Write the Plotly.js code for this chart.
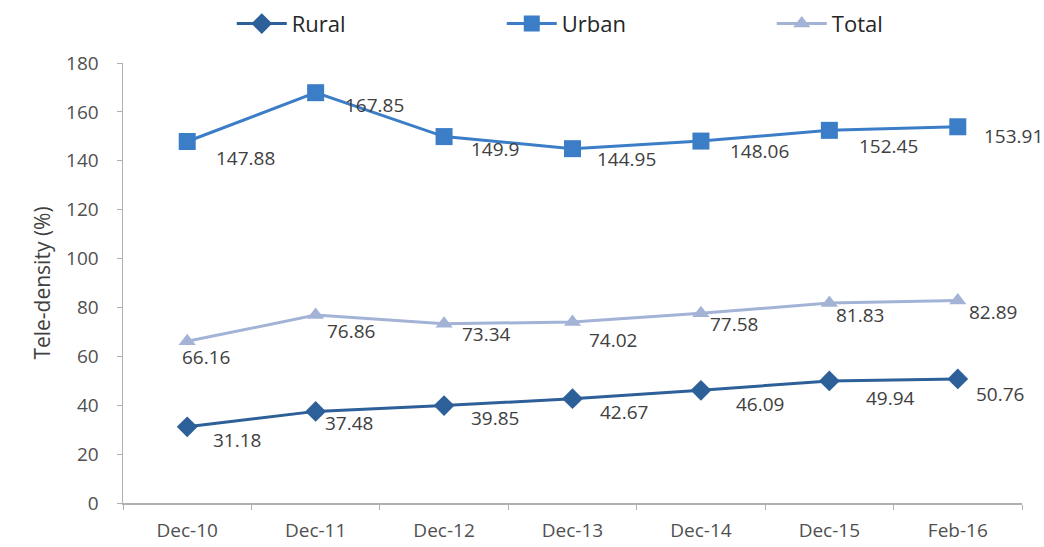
<!DOCTYPE html>
<html>
<head>
<meta charset="utf-8">
<script src="https://cdn.plot.ly/plotly-3.0.1.min.js"></script>
<style>html,body{margin:0;padding:0;background:#fff;}#chart{width:1044px;height:547px;}</style>
</head>
<body>
<div id="chart"></div>
<script>
// ---- data ----
const categories = ["Dec-10", "Dec-11", "Dec-12", "Dec-13", "Dec-14", "Dec-15", "Feb-16"];
const rural = [31.18, 37.48, 39.85, 42.67, 46.09, 49.94, 50.76];
const urban = [147.88, 167.85, 149.9, 144.95, 148.06, 152.45, 153.91];
const total = [66.16, 76.86, 73.34, 74.02, 77.58, 81.83, 82.89];
const yTickVals = [0, 20, 40, 60, 80, 100, 120, 140, 160, 180];

// ---- label offsets (pixels, style only) ----
const ruralShift = {x: [50, 33, 51, 51, 59, 61, 42], y: [13, 12, 12, 13, 14, 17, 15]};
const urbanShift = {x: [58, 59, 51, 54, 59, 59, 56], y: [16, 12, 12, 10, 10, 16, 9]};
const totalShift = {x: [19, 35, 42, 40, 33, 31, 35], y: [16, 16, 10, 18, 11, 12, 12]};

const FONT = "Open Sans, Liberation Sans, sans-serif";
const cRural = "#2d5f98", cUrban = "#3b7dc6", cTotal = "#a3b3d6";

const traces = [
  {name: "Rural", x: categories, y: rural, type: "scatter", mode: "lines+markers",
   line: {color: cRural, width: 3}, marker: {symbol: "diamond", size: 16, color: cRural}},
  {name: "Urban", x: categories, y: urban, type: "scatter", mode: "lines+markers",
   line: {color: cUrban, width: 3}, marker: {symbol: "square", size: 17, color: cUrban}},
  {name: "Total", x: categories, y: total, type: "scatter", mode: "lines+markers",
   line: {color: cTotal, width: 3}, marker: {symbol: "triangle-up", size: 15, color: cTotal}}
];

function labels(vals, shift) {
  return vals.map((v, i) => ({
    x: categories[i], y: v, xref: "x", yref: "y", text: String(v),
    showarrow: false, xshift: shift.x[i], yshift: -shift.y[i],
    font: {family: FONT, size: 19, color: "#404040"}
  }));
}

const layout = {
  width: 1044, height: 547,
  margin: {l: 123, r: 22, t: 63, b: 44, autoexpand: false},
  paper_bgcolor: "#ffffff", plot_bgcolor: "#ffffff",
  font: {family: FONT, color: "#404040"},
  showlegend: true,
  legend: {orientation: "h", x: 0.121, xanchor: "left", y: 0.995, yanchor: "top", yref: "container",
           entrywidth: 205, entrywidthmode: "pixels", itemwidth: 50,
           font: {family: FONT, size: 22, color: "#262626"}, bgcolor: "rgba(0,0,0,0)"},
  xaxis: {type: "category", range: [-0.5, 6.5], showgrid: false, zeroline: false,
          showline: true, linecolor: "#b0b0b0", linewidth: 1.5,
          ticks: "outside", tickson: "boundaries", ticklen: 5, tickcolor: "#b0b0b0",
          ticklabelstandoff: 10,
          tickfont: {family: FONT, size: 19, color: "#505050"}, fixedrange: true},
  yaxis: {range: [0, 180], tickvals: yTickVals, showgrid: false, zeroline: false,
          showline: true, linecolor: "#b0b0b0", linewidth: 1.5,
          ticks: "outside", ticklen: 5, tickcolor: "#b0b0b0",
          ticklabelstandoff: 14,
          tickfont: {family: FONT, size: 19, color: "#505050"},
          title: {text: "Tele-density (%)", font: {family: FONT, size: 21, color: "#404040"}, standoff: 10},
          fixedrange: true},
  annotations: [].concat(labels(rural, ruralShift), labels(urban, urbanShift), labels(total, totalShift))
};

Plotly.newPlot("chart", traces, layout, {displayModeBar: false, staticPlot: true});
</script>
</body>
</html>
